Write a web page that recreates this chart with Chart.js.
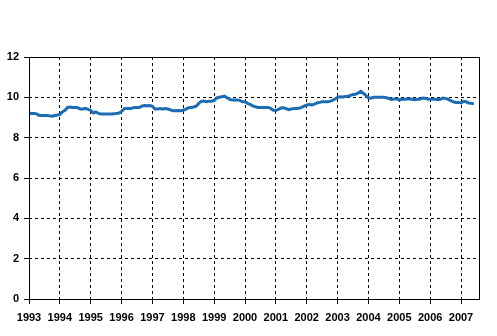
<!DOCTYPE html>
<html>
<head>
<meta charset="utf-8">
<script src="https://cdn.jsdelivr.net/npm/chart.js@4/dist/chart.umd.min.js"></script>
<style>
  html, body { margin: 0; padding: 0; background: #ffffff; }
  #wrap { width: 497px; height: 336px; position: relative; }
</style>
</head>
<body>
<div id="wrap"><canvas id="chart"></canvas></div>
<script>
// Year labels, one tick every 12 months starting Jan 1993
const years = ['1993', '1994', '1995', '1996', '1997', '1998', '1999', '2000',
               '2001', '2002', '2003', '2004', '2005', '2006', '2007'];

// Monthly values, Jan 1993 - Jun 2007
const values = [
    9.22, 9.20, 9.20, 9.18, 9.10, 9.10, 9.10, 9.10, 9.08, 9.06, 9.10, 9.12, // 1993
    9.15, 9.28, 9.36, 9.50, 9.52, 9.50, 9.50, 9.48, 9.42, 9.42, 9.45, 9.40, // 1994
    9.35, 9.22, 9.28, 9.20, 9.17, 9.17, 9.17, 9.17, 9.17, 9.18, 9.20, 9.22, // 1995
    9.30, 9.44, 9.45, 9.45, 9.46, 9.50, 9.50, 9.50, 9.57, 9.59, 9.58, 9.59, // 1996
    9.55, 9.42, 9.42, 9.45, 9.42, 9.44, 9.42, 9.38, 9.34, 9.34, 9.35, 9.34, // 1997
    9.36, 9.42, 9.48, 9.50, 9.52, 9.56, 9.70, 9.80, 9.82, 9.78, 9.80, 9.80, // 1998
    9.85, 9.97, 10.00, 10.03, 10.06, 9.98, 9.90, 9.87, 9.87, 9.87, 9.85, 9.78, // 1999
    9.78, 9.70, 9.65, 9.58, 9.53, 9.50, 9.50, 9.50, 9.50, 9.50, 9.45, 9.36, // 2000
    9.35, 9.40, 9.47, 9.48, 9.44, 9.39, 9.42, 9.45, 9.45, 9.46, 9.50, 9.56, // 2001
    9.62, 9.64, 9.62, 9.66, 9.72, 9.75, 9.78, 9.78, 9.78, 9.80, 9.85, 9.92, // 2002
    10.00, 10.03, 10.02, 10.04, 10.05, 10.10, 10.14, 10.15, 10.22, 10.30, 10.20, 10.10, // 2003
    9.98, 9.96, 10.00, 10.00, 10.00, 10.00, 10.00, 9.98, 9.94, 9.90, 9.92, 9.92, // 2004
    9.87, 9.90, 9.90, 9.92, 9.92, 9.90, 9.88, 9.90, 9.90, 9.97, 9.95, 9.92, // 2005
    9.90, 9.90, 9.90, 9.88, 9.90, 9.97, 9.95, 9.90, 9.84, 9.78, 9.75, 9.75, // 2006
    9.72, 9.80, 9.78, 9.72, 9.70, 9.68                                      // 2007
];

const yTicks = [0, 2, 4, 6, 8, 10, 12];

// Solid frame round the plot area
const frame = {
    id: 'frame',
    afterDraw(chart) {
        const a = chart.chartArea;
        const ctx = chart.ctx;
        ctx.save();
        ctx.strokeStyle = '#000000';
        ctx.lineWidth = 1;
        ctx.setLineDash([]);
        ctx.strokeRect(Math.round(a.left) + 0.5, Math.round(a.top) + 0.5,
            Math.round(a.right - a.left), Math.round(a.bottom - a.top));
        ctx.restore();
    }
};

const font = { family: '"Liberation Sans", Arial, sans-serif', size: 11, weight: 'bold' };

new Chart(document.getElementById('chart'), {
    type: 'line',
    data: {
        datasets: [{
            data: values.map((v, i) => ({ x: i, y: v })),
            borderColor: '#1c6cb4',
            borderWidth: 3,
            pointRadius: 0,
            tension: 0,
            fill: false
        }]
    },
    options: {
        responsive: true,
        maintainAspectRatio: false,
        animation: false,
        layout: { padding: { top: 57, right: 18, left: 0, bottom: 0 } },
        plugins: {
            legend: { display: false },
            tooltip: { enabled: false }
        },
        scales: {
            x: {
                type: 'linear',
                min: 0,
                max: 175,
                afterBuildTicks: axis => {
                    axis.ticks = years.map((y, i) => ({ value: i * 12 }));
                },
                afterFit: scale => { scale.height = 37; },
                grid: {
                    color: '#000000',
                    lineWidth: 1,
                    tickLength: 5,
                    tickBorderDash: [],
                    tickColor: '#000000'
                },
                border: { display: false, dash: [3, 3] },
                ticks: {
                    autoSkip: false,
                    maxRotation: 0,
                    padding: 7,
                    color: '#000000',
                    font: font,
                    callback: value => years[Math.round(value / 12)]
                }
            },
            y: {
                min: 0,
                max: 12,
                afterBuildTicks: axis => {
                    axis.ticks = yTicks.map(v => ({ value: v }));
                },
                afterFit: scale => { scale.width = 29; },
                grid: {
                    color: '#000000',
                    lineWidth: 1,
                    tickLength: 5,
                    tickBorderDash: [],
                    tickColor: '#000000'
                },
                border: { display: false, dash: [3, 3] },
                ticks: {
                    padding: 5,
                    color: '#000000',
                    font: font
                }
            }
        }
    },
    plugins: [frame]
});
</script>
</body>
</html>
